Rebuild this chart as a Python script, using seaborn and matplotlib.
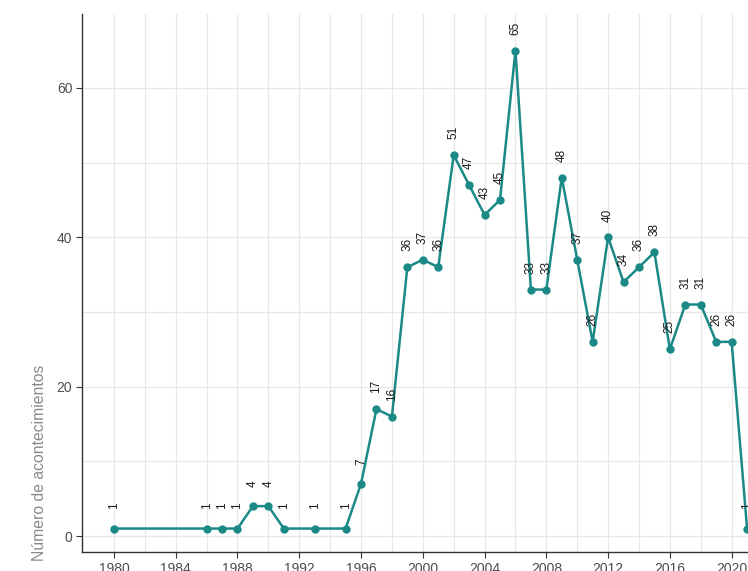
import numpy as np
import pandas as pd
import matplotlib
matplotlib.use("Agg")
from matplotlib import pyplot as plt
import seaborn as sns

# events per year
years = [1980, 1986, 1987, 1988, 1989, 1990, 1991, 1993, 1995, 1996,
         1997, 1998, 1999, 2000, 2001, 2002, 2003, 2004, 2005, 2006,
         2007, 2008, 2009, 2010, 2011, 2012, 2013, 2014, 2015, 2016,
         2017, 2018, 2019, 2020, 2021]
counts = [1, 1, 1, 1, 4, 4, 1, 1, 1, 7,
          17, 16, 36, 37, 36, 51, 47, 43, 45, 65,
          33, 33, 48, 37, 26, 40, 34, 36, 38, 25,
          31, 31, 26, 26, 1]
x_ticks = list(range(1980, 2021, 4))
y_ticks = [0, 20, 40, 60]

df = pd.DataFrame({'anio': years, 'n': counts})

sns.set_theme(style="white")
plt.rcParams['font.family'] = ['Liberation Sans', 'DejaVu Sans']

teal = '#1b8a87'
fig = plt.figure(figsize=(7.48, 5.71), dpi=100)
ax = fig.add_axes([82/748, 19/571, 1 - 82/748, 1 - 33/571])

# grid: major and minor lines
for xv in np.arange(1980, 2022, 2):
    ax.axvline(xv, color='#e8e8e8', lw=0.9, zorder=0)
for yv in np.arange(0, 70, 10):
    ax.axhline(yv, color='#e8e8e8', lw=0.9, zorder=0)

sns.lineplot(data=df, x='anio', y='n', color=teal, lw=1.8, ax=ax, zorder=2)
sns.scatterplot(data=df, x='anio', y='n', color=teal, s=36, edgecolor=teal,
                linewidth=0, ax=ax, zorder=3)

for yr, n in zip(years, counts):
    ax.text(yr, n + 3.0, str(n), rotation=90, ha='center', va='center',
            fontsize=8.5, color='#1a1a1a', zorder=4)

ax.set_xlim(1977.93, 2021.06)
ax.set_ylim(-2.14, 69.9)
ax.set_xticks(x_ticks)
ax.set_yticks(y_ticks)
ax.set_xlabel('')
ax.set_ylabel('Número de acontecimientos', fontsize=11.3, color='#8a8a8a')
# label sits low on the left side, as in the source figure
ax.yaxis.set_label_coords(-0.053, 0.165)
ax.tick_params(axis='both', which='major', length=4, width=0.8,
               color='#333333', labelsize=10, labelcolor='#4d4d4d',
               bottom=True, left=True, pad=3)

for side in ['top', 'right']:
    ax.spines[side].set_visible(False)
for side in ['left', 'bottom']:
    ax.spines[side].set_color('#333333')
    ax.spines[side].set_linewidth(1.0)

fig.savefig('out.png', dpi=100)
